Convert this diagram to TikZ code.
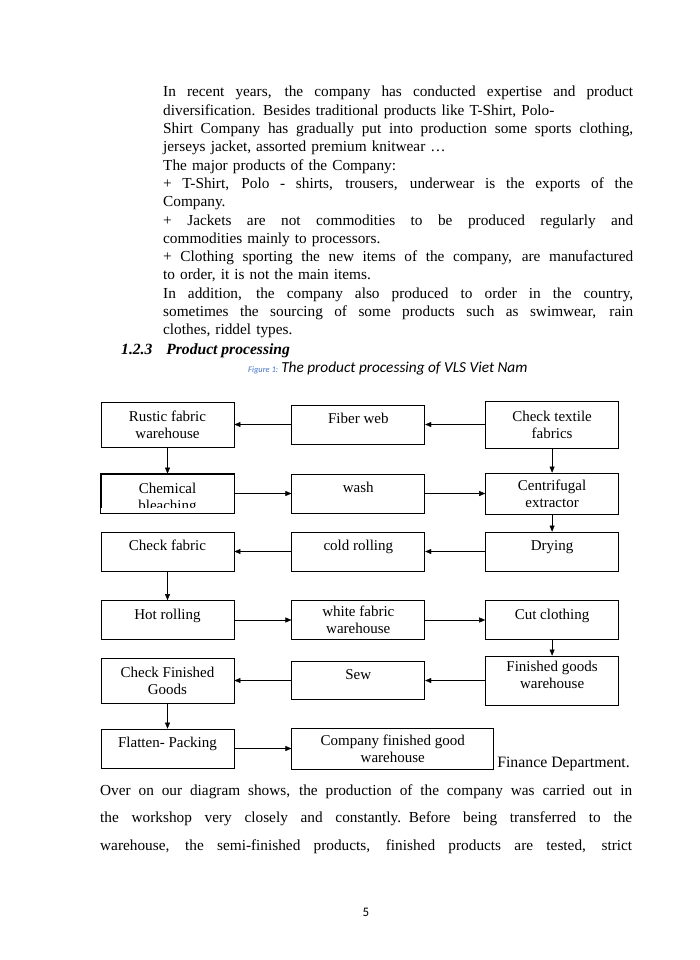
\documentclass[tikz,border=0pt]{standalone}
\usepackage{fontspec}
\setmainfont{Liberation Serif}
\newfontfamily\capfont{Carlito}
\usepackage{tikz}
\usetikzlibrary{arrows.meta,positioning}
\definecolor{capblue}{rgb}{0.27,0.45,0.77}
\newcommand{\bodyfnt}{\fontsize{15.3}{18.3}\selectfont}
\newcommand{\boxfnt}{\fontsize{15}{17}\selectfont}
\newcommand{\jl}[2][470pt]{\leavevmode{\spaceskip=0.25em plus 1fil minus 0.05em\hbox to #1{#2}}}

\begin{document}
\begin{tikzpicture}[
  x=1pt,y=-1pt,
  box/.style={draw,line width=0.8pt,minimum width=133pt,minimum height=39pt,
              inner sep=0pt,align=center,font=\boxfnt},
  onel/.style={text height=10pt,text depth=12pt},
  para/.style={anchor=base west,inner sep=0pt,align=left,font=\bodyfnt},
  >={Stealth[length=6pt,width=5pt,inset=0pt]}
]
\fill[white] (0,0) rectangle (700,960);
\useasboundingbox (0,0) rectangle (700,960);

\node[para,text width=470pt] (intro) at (163,97) {%
\jl{In recent years, the company has conducted expertise and product}\\
diversification. Besides traditional products like T-Shirt, Polo-\\
\jl{Shirt Company has gradually put into production some sports clothing,}\\
jerseys jacket, assorted premium knitwear \dots\\
The major products of the Company:\\
\jl{+ T-Shirt, Polo - shirts, trousers, underwear is the exports of the}\\
Company.\\
\jl{+ Jackets are not commodities to be produced regularly and}\\
commodities mainly to processors.\\
\jl{+ Clothing sporting the new items of the company, are manufactured}\\
to order, it is not the main items.\\
\jl{In addition, the company also produced to order in the country,}\\
\jl{sometimes the sourcing of some products such as swimwear, rain}\\
clothes, riddel types.};
\node[anchor=base west,inner sep=0pt,font=\fontsize{15.6}{18}\selectfont\bfseries\itshape] (sec) at (121,354)
  {1.2.3\hspace{14pt}Product processing};
\node[anchor=base west,inner sep=0pt,font=\capfont\itshape] (cap) at (248,372)
  {{\fontsize{8.5}{10}\selectfont\color{capblue}Figure 1:}\hspace{3pt}{\fontsize{15.3}{17}\selectfont The product processing of VLS Viet Nam}};
\node[anchor=base east,inner sep=0pt,font=\fontsize{15.8}{18}\selectfont] (src) at (630,767) {Source: Finance Department.};

\node[box,minimum height=45pt] (rus) at (167.5,424.5) {Rustic fabric\\warehouse};
\node[box,onel,right=57pt of rus] (fib) {Fiber web};
\node[box,minimum height=47pt,right=60pt of fib] (chk) {Check textile\\fabrics};
\node[box,text height=33pt,text depth=0pt] (chem) at (167.5,493.5) {Chemical\\bleaching};
\fill[white] ([yshift=5pt]chem.south west) rectangle (chem.south east);
\draw[line width=0.8pt] (chem.south west) rectangle (chem.north east);
\node[box,onel,right=57pt of chem] (wash) {wash};
\node[box,minimum height=41pt,right=60pt of wash] (cen) {Centrifugal\\extractor};
\node[box,onel] (cfab) at (167.5,551.5) {Check fabric};
\node[box,onel,right=57pt of cfab] (cold) {cold rolling};
\node[box,onel,right=60pt of cold] (dry) {Drying};
\node[box,onel] (hot) at (167.5,620) {Hot rolling};
\node[box,right=57pt of hot] (white) {white fabric\\warehouse};
\node[box,onel,right=60pt of white] (cut) {Cut clothing};
\node[box,minimum height=45pt] (cfin) at (167.5,680.5) {Check Finished\\Goods};
\node[box,onel,minimum height=38pt,right=57pt of cfin] (sew) {Sew};
\node[box,minimum height=49pt,text depth=12pt,right=60pt of sew] (fgw) {Finished goods\\warehouse};
\node[box,onel] (pack) at (167.5,748.5) {Flatten- Packing};
\node[box,fill=white,minimum width=202pt,minimum height=41pt,right=57pt of pack] (cfg)
  {Company finished good\\warehouse};

\draw[->] (chk) -- (fib);
\draw[->] (fib) -- (rus);
\draw[->] (rus) -- (chem);
\draw[->] (chk) -- (cen);
\draw[->] (chem) -- (wash);
\draw[->] (wash) -- (cen);
\draw[->] (cen) -- (dry);
\draw[->] (dry) -- (cold);
\draw[->] (cold) -- (cfab);
\draw[->] (cfab) -- (hot);
\draw[->] (hot) -- (white);
\draw[->] (white) -- (cut);
\draw[->] (cut) -- (fgw);
\draw[->] (fgw) -- (sew);
\draw[->] (sew) -- (cfin);
\draw[->] (cfin) -- (pack);
\draw[->] (pack) -- (cfg);

\node[para,text width=532pt,font=\fontsize{15.3}{27.5}\selectfont] (outro) at (100,795) {%
\jl[532pt]{Over on our diagram shows, the production of the company was carried out in}\\
\jl[532pt]{the workshop very closely and constantly. Before being transferred to the}\\
\jl[532pt]{warehouse, the semi-finished products, finished products are tested, strict}};
\node[anchor=base,inner sep=0pt,font=\capfont\fontsize{13}{15}\selectfont] (pg) at (366,916) {5};
\end{tikzpicture}
\end{document}
